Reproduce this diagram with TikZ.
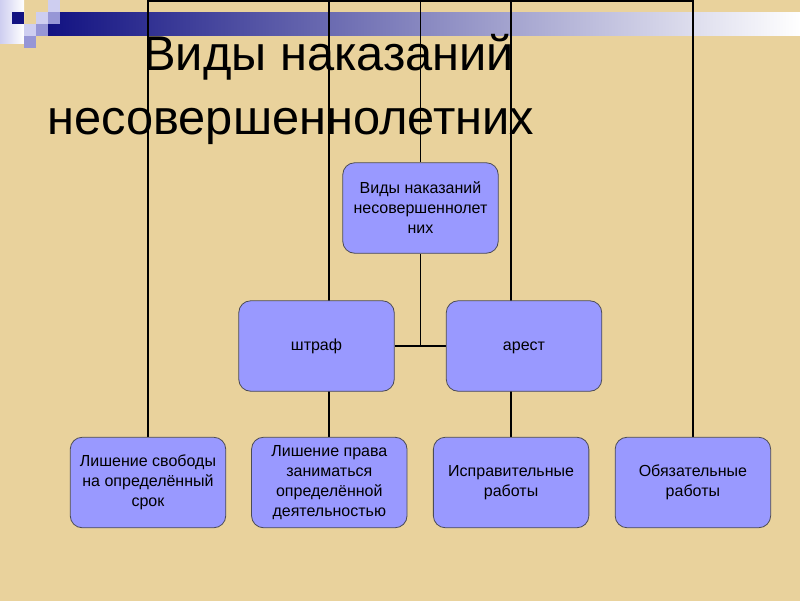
\documentclass[tikz,border=0pt]{standalone}
\usepackage{fontspec}
\setmainfont{Liberation Sans}
\usepackage{xcolor}
\usepackage{tikz}
\usetikzlibrary{positioning}
\definecolor{paper}{RGB}{233,210,156}
\definecolor{paperlight}{RGB}{242,225,180}
\definecolor{boxfill}{RGB}{153,153,255}
\definecolor{boxline}{RGB}{75,75,85}
\definecolor{barnavy}{RGB}{18,18,130}
\definecolor{sqlight}{RGB}{206,206,240}
\definecolor{sqmid}{RGB}{150,150,214}
\pgfdeclarelayer{paperlayer}
\pgfdeclarelayer{wirelayer}
\pgfsetlayers{paperlayer,wirelayer,main}
\tikzset{
  kind/.style={draw=boxline, fill=boxfill, rounded corners=12pt, line width=0.8pt,
               minimum width=155.5pt, minimum height=90.5pt, inner sep=2pt, align=center,
               font=\fontsize{16}{20}\selectfont},
  onekind/.style={kind, text height=12pt, text depth=4pt},
  wire/.style={line width=1.7pt, black},
  headline/.style={font=\fontsize{48.8}{58}\selectfont, inner sep=0pt, anchor=base west},
  sqbox/.style={draw=none}
}

\begin{document}
\begin{tikzpicture}[x=1pt, y=-1pt]
\useasboundingbox (0,0) rectangle (800,600);
\begin{pgfonlayer}{paperlayer}
\shade[top color=paper, middle color=paperlight, bottom color=paper] (0,0) rectangle (800,600);
\shade[left color=sqlight, right color=white] (0,0) rectangle (24,43);
\shade[left color=barnavy, right color=white] (48,12) rectangle (800,35);
\fill[sqbox, barnavy] (12,12) rectangle (24,24);
\fill[sqbox, sqlight] (36,12) rectangle (48,24);
\fill[sqbox, sqlight] (48,0) rectangle (60,12);
\fill[sqbox, sqlight] (24,24) rectangle (36,36);
\fill[sqbox, sqmid] (48,12) rectangle (60,24);
\fill[sqbox, sqmid] (36,24) rectangle (48,36);
\fill[sqbox, sqmid] (24,36) rectangle (36,48);
\node[headline] (title1) at (143,70) {Виды наказаний};
\node[headline] (title2) at (47,134) {несовершеннолетних};
\end{pgfonlayer}

\coordinate (top) at (0,1);
\node[kind] (root) at (420.5,208) {Виды наказаний\\несовершеннолет\\них};
\node[onekind] (fine) at (316.5,346) {штраф};
\node[onekind] (arrest) at (524,346) {арест};
\node[kind] (prison) at (148,482.5) {Лишение свободы\\на определённый\\срок};
\node[kind, right=25pt of prison] (ban) {Лишение права\\заниматься\\определённой\\деятельностью};
\node[kind, right=25.5pt of ban] (corrective) {Исправительные\\работы};
\node[kind, right=25.5pt of corrective] (compulsory) {Обязательные\\работы};

\begin{pgfonlayer}{wirelayer}
\draw[wire] (prison.north) |- (compulsory.north |- top) -- (compulsory.north);
\draw[wire] (ban.north) -- (ban.north |- top);
\draw[wire] (corrective.north) -- (corrective.north |- top);
\draw[wire] (root.north) -- (root.north |- top);
\draw[wire] (root.south) -- (root.south |- fine.east);
\draw[wire] (fine.east) -- (arrest.west);
\end{pgfonlayer}
\end{tikzpicture}
\end{document}
